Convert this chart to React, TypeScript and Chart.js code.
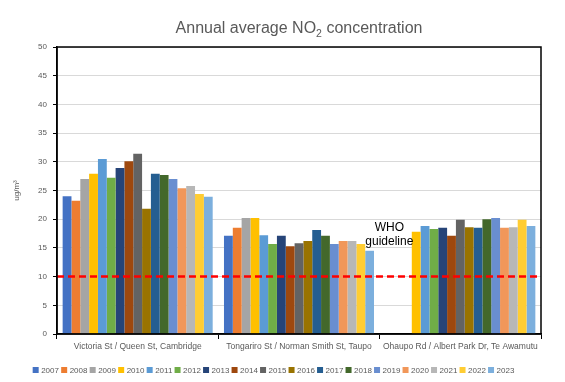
import React, { useEffect, useRef } from 'react';
import { Chart, registerables } from 'chart.js';

Chart.register(...registerables);

const sites = [
  'Victoria St / Queen St, Cambridge',
  'Tongariro St / Norman Smith St, Taupo',
  'Ohaupo Rd / Albert Park Dr, Te Awamutu',
];
const years = ['2007', '2008', '2009', '2010', '2011', '2012', '2013', '2014', '2015', '2016', '2017', '2018', '2019', '2020', '2021', '2022', '2023'];
const victoria = [24.0, 23.2, 27.0, 27.9, 30.5, 27.2, 28.9, 30.1, 31.4, 21.8, 27.9, 27.7, 27.0, 25.4, 25.8, 24.4, 23.9];
const tongariro = [17.1, 18.5, 20.2, 20.2, 17.2, 15.7, 17.1, 15.3, 15.8, 16.2, 18.1, 17.1, 15.7, 16.2, 16.2, 15.7, 14.5];
const ohaupo = [null, null, null, 17.8, 18.8, 18.3, 18.5, 17.1, 19.9, 18.6, 18.5, 20.0, 20.2, 18.5, 18.6, 19.9, 18.8];
const yearColors = ['#4472C4', '#ED7D31', '#A5A5A5', '#FFC000', '#5B9BD5', '#70AD47', '#264478', '#9E480E', '#636363', '#997300', '#255E91', '#43682B', '#698ED0', '#F1975A', '#B7B7B7', '#FFCD33', '#7CAFDD'];
const WHO_GUIDELINE = 10;
const whoLabel = ['WHO', 'guideline'];
const titleParts = { main: 'Annual average NO', sub: '2', rest: ' concentration' };
const yTitle = 'ug/m³';

const FONT = "'Liberation Sans', Arial, sans-serif";
const GREY = '#595959';

const titlePlugin = {
  id: 'customTitle',
  afterDraw(chart: any) {
    const { ctx, chartArea } = chart;
    ctx.save();
    ctx.fillStyle = GREY;
    ctx.textBaseline = 'alphabetic';
    const big = `16px ${FONT}`;
    const small = `10.5px ${FONT}`;
    ctx.font = big;
    const w1 = ctx.measureText(titleParts.main).width;
    const w3 = ctx.measureText(titleParts.rest).width;
    ctx.font = small;
    const w2 = ctx.measureText(titleParts.sub).width;
    const total = w1 + w2 + w3;
    let x = (chartArea.left + chartArea.right) / 2 - total / 2;
    const y = chartArea.top - 14;
    ctx.textAlign = 'left';
    ctx.font = big;
    ctx.fillText(titleParts.main, x, y);
    x += w1;
    ctx.font = small;
    ctx.fillText(titleParts.sub, x, y + 3.5);
    x += w2;
    ctx.font = big;
    ctx.fillText(titleParts.rest, x, y);
    ctx.restore();
  },
};

const guidelinePlugin = {
  id: 'guideline',
  afterDatasetsDraw(chart: any) {
    const { ctx, chartArea, scales } = chart;
    const y = scales.y.getPixelForValue(WHO_GUIDELINE);
    ctx.save();
    ctx.strokeStyle = '#FF0000';
    ctx.lineWidth = 2.5;
    ctx.setLineDash([7, 4]);
    ctx.beginPath();
    ctx.moveTo(chartArea.left, y);
    ctx.lineTo(chartArea.right, y);
    ctx.stroke();
    ctx.setLineDash([]);
    ctx.fillStyle = '#000';
    ctx.font = `12px ${FONT}`;
    ctx.textAlign = 'center';
    ctx.textBaseline = 'middle';
    const lx = scales.x.getPixelForValue(1.56);
    ctx.fillText(whoLabel[0], lx, scales.y.getPixelForValue(18.6));
    ctx.fillText(whoLabel[1], lx, scales.y.getPixelForValue(16.0));
    ctx.restore();
  },
};

const borderPlugin = {
  id: 'plotBorder',
  afterDraw(chart: any) {
    const { ctx, chartArea } = chart;
    ctx.save();
    ctx.strokeStyle = '#000';
    ctx.lineWidth = 1.5;
    ctx.strokeRect(chartArea.left, chartArea.top, chartArea.right - chartArea.left, chartArea.bottom - chartArea.top);
    ctx.restore();
  },
};

const legendPlugin = {
  id: 'customLegend',
  afterDraw(chart: any) {
    const { ctx } = chart;
    const ds = chart.data.datasets;
    ctx.save();
    ctx.font = `8px ${FONT}`;
    ctx.textBaseline = 'middle';
    ctx.textAlign = 'left';
    const box = 6;
    const gap = 2.5;
    const sep = 2.2;
    let total = 0;
    const widths = ds.map((d: any) => ctx.measureText(d.label).width);
    widths.forEach((w: number) => (total += box + gap + w + sep));
    total -= sep;
    let x = chart.width / 2 - total / 2 - 9;
    const y = chart.chartArea.bottom + 36;
    ds.forEach((d: any, i: number) => {
      ctx.fillStyle = d.backgroundColor;
      ctx.fillRect(x, y - box / 2, box, box);
      x += box + gap;
      ctx.fillStyle = GREY;
      ctx.fillText(d.label, x, y + 0.5);
      x += widths[i] + sep;
    });
    ctx.restore();
  },
};

export default function App() {
  const canvasRef = useRef<HTMLCanvasElement | null>(null);

  useEffect(() => {
    if (!canvasRef.current) return;
    Chart.defaults.font.family = FONT;
    const datasets = years.map((yr, i) => ({
      label: yr,
      data: [victoria[i], tongariro[i], ohaupo[i]],
      backgroundColor: yearColors[i],
      borderWidth: 0,
      categoryPercentage: 0.93,
      barPercentage: 1.0,
    }));
    const chart = new Chart(canvasRef.current, {
      type: 'bar',
      data: { labels: sites, datasets },
      plugins: [titlePlugin, guidelinePlugin, borderPlugin, legendPlugin],
      options: {
        animation: false,
        responsive: true,
        maintainAspectRatio: false,
        layout: { padding: { top: 39, right: 16, left: 0, bottom: 20 } },
        plugins: {
          legend: { display: false },
          title: { display: false },
          tooltip: { enabled: false },
        },
        scales: {
          x: {
            grid: {
              display: true,
              drawOnChartArea: false,
              drawTicks: true,
              tickLength: 5,
              tickColor: '#000',
              offset: true,
            },
            border: { display: true, color: '#000', width: 1.5 },
            ticks: { color: GREY, font: { size: 8.5 }, padding: 3, maxRotation: 0, autoSkip: false },
            afterFit(scale: any) {
              scale.height = 20;
            },
          },
          y: {
            min: 0,
            max: 50,
            ticks: { stepSize: 5, color: GREY, font: { size: 8 }, padding: 6 },
            grid: { color: '#D9D9D9', tickColor: '#000', tickLength: 4, lineWidth: 1 },
            border: { display: true, color: '#000', width: 1.5 },
            title: { display: true, text: yTitle, color: GREY, font: { size: 8 }, padding: { top: 4, bottom: 4 } },
            afterFit(scale: any) {
              scale.width = 49;
            },
          },
        },
      },
    });
    return () => chart.destroy();
  }, []);

  return (
    <div style={{ position: 'relative', width: '100%', height: '366px' }}>
      <canvas ref={canvasRef} />
    </div>
  );
}
